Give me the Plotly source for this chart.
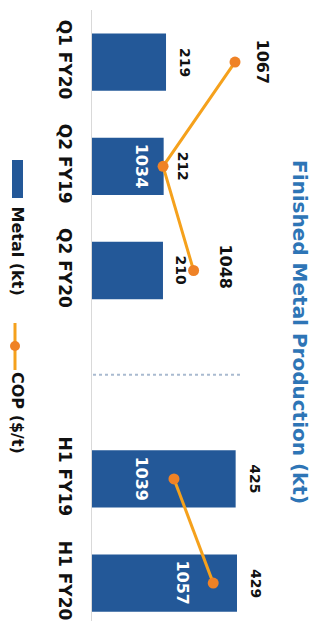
import plotly.graph_objects as go

# ---- data ----
categories = ["Q1 FY20", "Q2 FY19", "Q2 FY20", "H1 FY19", "H1 FY20"]
metal_kt = [219, 212, 210, 425, 429]
cop_usd_t = [1067, 1034, 1048, 1039, 1057]
gap_label = " "
gap_after = 2  # gap slot inserted after the 3rd category

# ---- styling / layout (page body adds an 8px offset) ----
OFF = 8
W, H = 317, 621
ML, MR, MT, MB = 92 - OFF, 0, 10 - OFF, 0
PW, PH = W - ML - MR, H - MT - MB
FONT = "DejaVu Sans"
BAR = "#235898"
LINE = "#F5A11C"
MARK = "#EF8226"
TITLE = "#2E75B6"

SLOT = 104.2          # px per category slot
KT_PX = 0.338         # px per kt
COP_PX = 2.18         # px per $/t
COP_AT_AXIS = 1001.4  # $/t value at the bar base line

axis_order = categories[:gap_after + 1] + [gap_label] + categories[gap_after + 1:]
cop_line_x = cop_usd_t[:gap_after + 1] + [None] + cop_usd_t[gap_after + 1:]


def px(xp):  # reference pixel -> paper x
    return (xp - OFF - ML) / PW


def py(yp):  # reference pixel -> paper y
    return 1 - (yp - OFF - MT) / PH


fig = go.Figure()
fig.add_trace(go.Bar(
    x=metal_kt, y=categories, orientation="h",
    marker=dict(color=BAR, line=dict(width=0)),
    width=0.55, hoverinfo="skip", name="Metal (kt)",
))
fig.add_trace(go.Scatter(
    x=cop_line_x, y=axis_order, xaxis="x2", mode="lines+markers",
    line=dict(color=LINE, width=3),
    marker=dict(color=MARK, size=11),
    connectgaps=False, hoverinfo="skip", name="COP ($/t)",
))

ann = []
for c, v in zip(categories, metal_kt):
    ann.append(dict(x=v, y=c, xref="x", yref="y", text=str(v), showarrow=False,
                    textangle=90, xanchor="left", yanchor="middle", xshift=9,
                    font=dict(family=FONT, size=14, color="#111111", weight="bold")))
cop_label_style = [("left", 16, 0, "#111111"), ("right", -10, 0, "#ffffff"),
                   ("left", 20, 4, "#111111"), ("right", -21, 0, "#ffffff"),
                   ("right", -19, 0, "#ffffff")]
for c, v, (side, xs, ys, col) in zip(categories, cop_usd_t, cop_label_style):
    ann.append(dict(x=v, y=c, xref="x2", yref="y", text=str(v), showarrow=False,
                    textangle=90, xanchor=side, yanchor="middle", xshift=xs, yshift=ys,
                    font=dict(family=FONT, size=16, color=col, weight="bold")))
ann.append(dict(x=px(300), y=py(332), xref="paper", yref="paper",
                text="Finished Metal Production (kt)", showarrow=False, textangle=90,
                xanchor="center", yanchor="middle",
                font=dict(family=FONT, size=20, color=TITLE, weight="bold")))
ann.append(dict(x=px(17), y=py(204), xref="paper", yref="paper", text="Metal (kt)",
                showarrow=False, textangle=90, xanchor="center", yanchor="top",
                font=dict(family=FONT, size=16, color="#111111", weight="bold")))
ann.append(dict(x=px(18), y=py(370), xref="paper", yref="paper", text="COP ($/t)",
                showarrow=False, textangle=90, xanchor="center", yanchor="top",
                font=dict(family=FONT, size=16, color="#111111", weight="bold")))

shapes = [
    dict(type="line", xref="paper", yref="y", x0=px(93), x1=px(243),
         y0=axis_order.index(gap_label), y1=axis_order.index(gap_label),
         line=dict(color="#A9BAD0", width=2, dash="dot")),
    dict(type="rect", xref="paper", yref="paper", x0=px(12), x1=px(23),
         y0=py(198), y1=py(160), fillcolor=BAR, line=dict(width=0)),
    dict(type="line", xref="paper", yref="paper", x0=px(15), x1=px(15),
         y0=py(370), y1=py(323), line=dict(color=LINE, width=3)),
    dict(type="circle", xref="paper", yref="paper", x0=px(10), x1=px(20),
         y0=py(351), y1=py(341), fillcolor=MARK, line=dict(width=0)),
]

fig.update_layout(
    width=W, height=H,
    margin=dict(l=ML, r=MR, t=MT, b=MB, autoexpand=False),
    paper_bgcolor="white", plot_bgcolor="white",
    showlegend=False,
    xaxis=dict(visible=False, range=[0, PW / KT_PX], fixedrange=True),
    xaxis2=dict(visible=False, overlaying="x",
                range=[COP_AT_AXIS, COP_AT_AXIS + PW / COP_PX]),
    yaxis=dict(categoryorder="array", categoryarray=axis_order,
               range=[-0.5 + PH / SLOT, -0.5], showgrid=False, zeroline=False,
               showline=True, linecolor="#D9D9D9", linewidth=1, ticks="",
               tickangle=90, ticklabelstandoff=12,
               tickfont=dict(family=FONT, size=17, color="#111111", weight="bold")),
    annotations=ann, shapes=shapes,
)

fig.write_html("out.html")
